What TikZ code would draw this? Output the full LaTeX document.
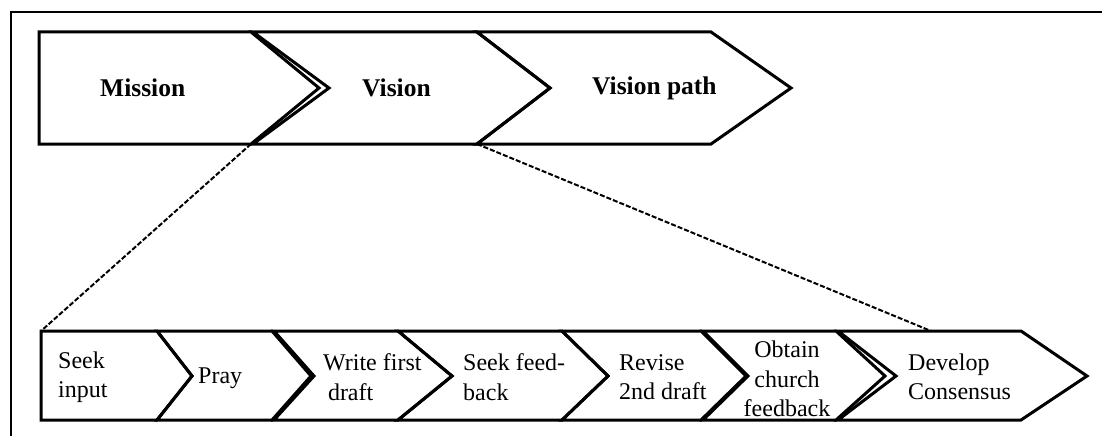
\documentclass[tikz,border=0pt]{standalone}
\usepackage{fontspec}
\setmainfont{Liberation Serif}

\begin{document}
\begin{tikzpicture}[x=1pt, y=-1pt,
    chev/.style={draw, line width=3pt, line join=miter},
    big/.style={anchor=west, inner sep=0pt, font=\fontsize{25.5}{30}\selectfont\bfseries},
    small/.style={anchor=west, inner sep=0pt, align=left, font=\fontsize{24}{29.5}\selectfont},
    zoomline/.style={line width=2pt, dash pattern=on 5pt off 2pt}
]
\useasboundingbox (0,0) rectangle (1102,436);
\draw[line width=1.8pt] (11,436) -- (11,12) -- (1102,12);

% top row
\draw[chev] (39,32) -- (251,32) -- (319,88) -- (251,144) -- (39,144) -- cycle;
\draw[chev] (253,32) -- (477,32) -- (550,88) -- (477,144) -- (253,144) -- (329,88) -- cycle;
\draw[chev] (477,32) -- (711,32) -- (791,88) -- (711,144) -- (477,144) -- (550,88) -- cycle;
\node[big] (mission) at (100,88) {Mission};
\node[big] (vision) at (362,88) {Vision};
\node[big] (vpath) at (592,88) {Vision path};

% bottom row
\draw[chev] (41,331) -- (157,331) -- (192,376) -- (157,420) -- (41,420) -- cycle;
\draw[chev] (157,331) -- (272,331) -- (311,376) -- (272,420) -- (157,420) -- (192,376) -- cycle;
\draw[chev] (274,331) -- (398,331) -- (452,376) -- (398,420) -- (274,420) -- (314,376) -- cycle;
\draw[chev] (398,331) -- (562,331) -- (608,376) -- (562,420) -- (398,420) -- (452,376) -- cycle;
\draw[chev] (562,331) -- (701,331) -- (746,376) -- (701,420) -- (562,420) -- (608,376) -- cycle;
\draw[chev] (703,331) -- (836,331) -- (885,376) -- (836,420) -- (703,420) -- (748,376) -- cycle;
\draw[chev] (838,331) -- (1021,331) -- (1087,376) -- (1021,420) -- (838,420) -- (896,376) -- cycle;
\node[small] (seek) at (58,377) {Seek\\input};
\node[small] (pray) at (198,378) {Pray};
\node[small] (write) at (323,377) {Write first\\\hspace{0.2em}draft};
\node[small] (feedback) at (463,377) {Seek feed-\\back};
\node[small] (revise) at (619,377) {Revise\\2nd draft};
\node[small, align=center, anchor=center] (obtain) at (787,379) {Obtain\\church\\feedback};
\node[small] (consensus) at (908,377) {Develop\\Consensus};

% zoom lines
\coordinate (mcorner) at (251,144);
\coordinate (vcorner) at (477,144);
\coordinate (lend) at (41,331);
\coordinate (rend) at (931,331);
\draw[zoomline] (mcorner) -- (lend);
\draw[zoomline] (vcorner) -- (rend);
\end{tikzpicture}
\end{document}
